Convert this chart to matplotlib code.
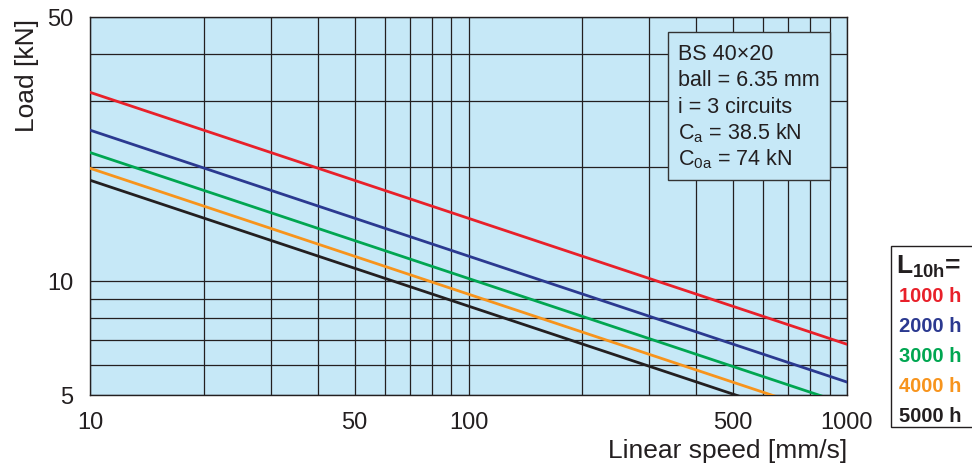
import numpy as np
import matplotlib.pyplot as plt
from matplotlib.patches import Rectangle

plt.rcParams['font.family'] = ['Liberation Sans', 'DejaVu Sans']
plt.rcParams['mathtext.fontset'] = 'custom'
plt.rcParams['mathtext.rm'] = 'Liberation Sans'
plt.rcParams['mathtext.it'] = 'Liberation Sans'
plt.rcParams['mathtext.bf'] = 'Liberation Sans:bold'

# data (load at 10 mm/s and 1000 mm/s)
speed = [10, 1000]
life_labels = ['1000 h', '2000 h', '3000 h', '4000 h', '5000 h']
load_1000h = [31.6, 6.81]
load_2000h = [25.1, 5.41]
load_3000h = [21.9, 4.72]
load_4000h = [19.9, 4.29]
load_5000h = [18.5, 3.99]
colors = ['#e8202a', '#2b3990', '#00a651', '#f7941d', '#231f20']

x_ticks = [10, 50, 100, 500, 1000]
y_ticks = [5, 10, 50]

info_lines = ['BS 40×20', 'ball = 6.35 mm', 'i = 3 circuits',
              r'C$_\mathrm{a}$ = 38.5 kN', r'C$_\mathrm{0a}$ = 74 kN']

fig = plt.figure(figsize=(9.72, 4.69), dpi=100)
ax = fig.add_axes([90/972, 74/469, 757/972, 378/469])
bg = '#c6e8f7'
ax.set_facecolor(bg)

for load, c in zip([load_1000h, load_2000h, load_3000h, load_4000h, load_5000h], colors):
    ax.plot(speed, load, color=c, linewidth=2, zorder=3)

ax.set_xscale('log')
ax.set_yscale('log')
ax.set_xlim(10, 1000)
ax.set_ylim(5, 50)

ax.set_xticks(x_ticks)
ax.set_xticklabels([str(t) for t in x_ticks])
ax.set_yticks(y_ticks)
ax.set_yticklabels([str(t) for t in y_ticks])
ax.minorticks_on()
ax.xaxis.set_minor_formatter(plt.NullFormatter())
ax.yaxis.set_minor_formatter(plt.NullFormatter())
ax.tick_params(which='both', length=0, labelsize=17, colors='#231f20')
ax.tick_params(axis='x', pad=12)
ax.tick_params(axis='y', pad=12)
ax.grid(which='both', color='#231f20', linewidth=0.9)
for s in ax.spines.values():
    s.set_color('#231f20')
    s.set_linewidth(1)

ax.set_xlabel('Linear speed [mm/s]', fontsize=19, color='#231f20', loc='right', labelpad=4)
ax.set_ylabel('Load [kN]', fontsize=19, color='#231f20')
ax.yaxis.set_label_coords(-0.068, 0.844)

# info box
ax.add_patch(Rectangle((0.7635, 0.5688), 0.214, 0.3915, transform=ax.transAxes,
                       fc=bg, ec='#333333', lw=1, zorder=5))
for i, line in enumerate(info_lines):
    ax.text(0.7768, (395 - (55 + i * 26)) / 378, line, transform=ax.transAxes,
            fontsize=15.5, va='center', ha='left', color='#231f20', zorder=6)

# legend box at the right
fig.patches.append(Rectangle((891/972, 42/469), 0.2, 181/469, transform=fig.transFigure,
                             fc='white', ec='#231f20', lw=1))
fig.text(896/972, 1 - 267/469, r'$\mathbf{L_{10h}}$=', fontsize=19, fontweight='bold',
         color='#231f20', va='center', ha='left')
for i, (lab, c) in enumerate(zip(life_labels, colors)):
    fig.text(899/972, 1 - (296 + i * 30)/469, lab, fontsize=14.5, fontweight='bold',
             color=c, va='center', ha='left')

fig.savefig('out.png', dpi=100)
